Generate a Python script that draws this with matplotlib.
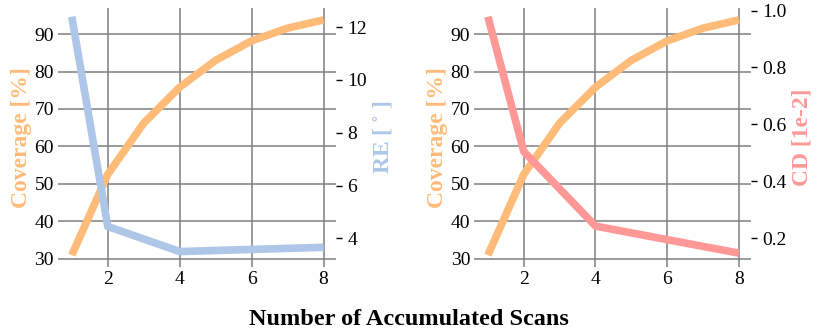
import matplotlib
matplotlib.use("Agg")
from matplotlib import pyplot as plt

plt.rcParams["font.family"] = ["Liberation Serif", "DejaVu Serif"]
plt.rcParams["mathtext.fontset"] = "stix"

# data
scans = [1, 2, 3, 4, 5, 6, 7, 8]
coverage = [30.9, 52.5, 66.2, 75.8, 83.0, 88.2, 91.6, 93.8]

re_scans = [1, 2, 4, 8]
re_err = [12.4, 4.45, 3.5, 3.66]

cd_scans = [1, 2, 4, 8]
cd_err = [0.978, 0.505, 0.243, 0.148]

ORANGE = "#ffbb78"
BLUE = "#aec7e8"
PINK = "#ff9896"
GRID = "#7f7f7f"

fig = plt.figure(figsize=(8.3, 3.31), dpi=100)


def make_panel(rect, x2, y2, color2, label2, ylim2, yticks2, ticklabels2):
    ax = fig.add_axes(rect)
    ax.plot(scans, coverage, color=ORANGE, lw=5.5, solid_capstyle="butt")
    ax.set_xlim(0.62, 8.35)
    ax.set_ylim(27.7, 97)
    ax.set_xticks([2, 4, 6, 8])
    ax.set_yticks([30, 40, 50, 60, 70, 80, 90])
    ax.grid(True, color=GRID, lw=1.1)
    ax.set_axisbelow(True)
    for s in ax.spines.values():
        s.set_visible(False)
    ax.tick_params(axis="both", length=0, labelsize=14, pad=3)
    ax.set_ylabel("Coverage [%]", color=ORANGE, fontsize=17,
                  fontweight="bold", labelpad=2)

    ax2 = ax.twinx()
    ax2.plot(x2, y2, color=color2, lw=5.5, solid_capstyle="butt")
    ax2.set_ylim(*ylim2)
    ax2.set_yticks(yticks2)
    ax2.set_yticklabels(ticklabels2)
    for s in ax2.spines.values():
        s.set_visible(False)
    ax2.tick_params(axis="y", length=4, width=1, color="black",
                    labelsize=14, pad=4)
    ax2.set_ylabel(label2, color=color2, fontsize=17, fontweight="bold",
                   labelpad=3)
    return ax, ax2


make_panel([0.07, 0.193, 0.335, 0.783], re_scans, re_err, BLUE,
           "RE [ $^{\\circ}$ ]", (2.91, 12.73), [4, 6, 8, 10, 12],
           ["4", "6", "8", "10", "12"])
make_panel([0.5714, 0.193, 0.334, 0.783], cd_scans, cd_err, PINK,
           "CD [1e-2]", (0.099, 1.009), [0.2, 0.4, 0.6, 0.8, 1.0],
           ["0.2", "0.4", "0.6", "0.8", "1.0"])

fig.text(0.493, 0.035, "Number of Accumulated Scans", ha="center",
         va="center", fontsize=17.5, fontweight="bold")

fig.savefig("out.png", dpi=100)
